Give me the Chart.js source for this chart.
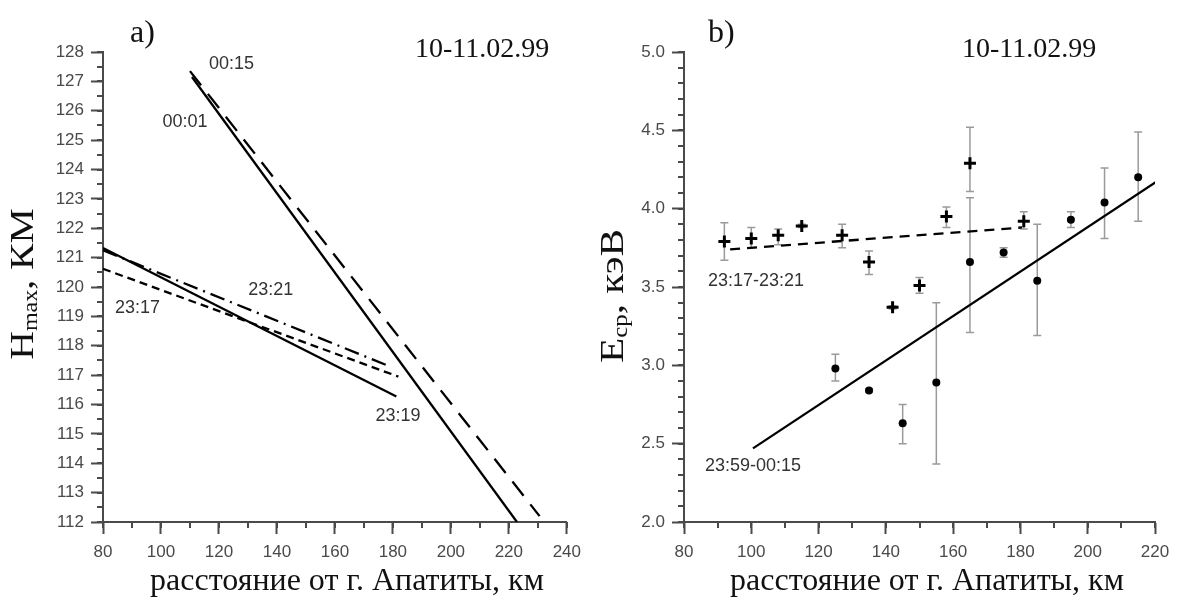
<!DOCTYPE html>
<html>
<head>
<meta charset="utf-8">
<script src="https://cdn.jsdelivr.net/npm/chart.js@4.4.1/dist/chart.umd.min.js"></script>
<style>
html,body{margin:0;padding:0;background:#fff;}
#wrap{position:relative;width:1178px;height:601px;overflow:hidden;}
#cA{position:absolute;left:0;top:0;}
#cB{position:absolute;left:589px;top:0;}
</style>
</head>
<body>
<div id="wrap">
<canvas id="cA" width="589" height="601"></canvas>
<canvas id="cB" width="589" height="601"></canvas>
</div>
<script>
// ---------- Panel a) : Hmax vs distance (regression lines) ----------
const a_xTicks = [80, 100, 120, 140, 160, 180, 200, 220, 240];
const a_yTicks = [112, 113, 114, 115, 116, 117, 118, 119, 120, 121, 122, 123, 124, 125, 126, 127, 128];

const line0015_x = [110, 230.6];
const line0015_y = [127.35, 112.2];
const line0001_x = [110.7, 222.8];
const line0001_y = [127.15, 112.0];
const line2319_x = [80, 181.2];
const line2319_y = [121.33, 116.27];
const line2317_x = [80, 181.9];
const line2317_y = [120.62, 116.95];
const line2321_x = [80, 178.8];
const line2321_y = [121.25, 117.3];

const a_labelText = ['00:15', '00:01', '23:21', '23:17', '23:19'];
const a_labelX = [124.3, 108.3, 137.9, 91.9, 181.8];
const a_labelY = [127.6, 125.6, 119.9, 119.3, 115.6];

// ---------- Panel b) : mean energy vs distance ----------
const b_xTicks = [80, 100, 120, 140, 160, 180, 200, 220];
const b_yTicks = [2.0, 2.5, 3.0, 3.5, 4.0, 4.5, 5.0];

// 23:17-23:21 (crosses)
const crossX  = [92, 100, 108, 115, 127, 135, 142, 150, 158, 165, 181];
const crossY  = [3.79, 3.81, 3.83, 3.89, 3.83, 3.66, 3.37, 3.51, 3.95, 4.29, 3.92];
const crossLo = [3.67, 3.75, 3.77, 3.88, 3.75, 3.58, 3.36, 3.46, 3.88, 4.11, 3.87];
const crossHi = [3.91, 3.88, 3.87, 3.90, 3.90, 3.73, 3.38, 3.56, 4.01, 4.52, 3.98];

// 23:59-00:15 (dots)
const dotX  = [125, 135, 145, 155, 165, 175, 185, 195, 205, 215];
const dotY  = [2.98, 2.84, 2.63, 2.89, 3.66, 3.72, 3.54, 3.93, 4.04, 4.20];
const dotLo = [2.90, 2.83, 2.50, 2.37, 3.21, 3.69, 3.19, 3.88, 3.81, 3.92];
const dotHi = [3.07, 2.85, 2.75, 3.40, 4.07, 3.75, 3.90, 3.98, 4.26, 4.49];

const fitCross_x = [93.7, 180.5];
const fitCross_y = [3.74, 3.88];
const fitDot_x = [100.5, 220.3];
const fitDot_y = [2.47, 4.17];

const b_labelText = ['23:17-23:21', '23:59-00:15'];
const b_labelX = [101.4, 100.5];
const b_labelY = [3.54, 2.36];

// ---------- helpers ----------
const pts = (xs, ys) => xs.map((x, i) => ({x: x, y: ys[i]}));
const SANS = "'Liberation Sans', Arial, sans-serif";
const SERIF = "'Liberation Serif', 'Times New Roman', serif";
const AXC = '#4a4a4a';

function makeScale(min, max, ticks, isY, fmt, size) {
  return {
    type: 'linear', min: min, max: max,
    afterBuildTicks: s => { s.ticks = ticks.map(v => ({value: v})); },
    afterFit: s => { if (isY) s.width = size; else s.height = size; },
    border: {display: true, color: AXC, width: 2},
    grid: {display: true, drawOnChartArea: false, drawTicks: true, tickLength: 12, tickColor: AXC, tickWidth: 2},
    ticks: {
      color: '#4a4a4a', font: {family: SANS, size: 17}, padding: isY ? 7 : 8,
      callback: v => fmt(v)
    }
  };
}

const minorTicks = {
  id: 'minorTicks',
  afterDraw(chart, args, opts) {
    const ctx = chart.ctx, ca = chart.chartArea;
    ctx.save();
    ctx.strokeStyle = AXC; ctx.lineWidth = 2;
    const xs = chart.scales.x, ys = chart.scales.y;
    for (let v = xs.min; v <= xs.max + 1e-9; v += opts.xStep) {
      const p = Math.round(xs.getPixelForValue(v));
      ctx.beginPath(); ctx.moveTo(p, ca.bottom); ctx.lineTo(p, ca.bottom + 6); ctx.stroke();
    }
    for (let v = ys.min; v <= ys.max + 1e-9; v += opts.yStep) {
      const p = Math.round(ys.getPixelForValue(v));
      ctx.beginPath(); ctx.moveTo(ca.left, p); ctx.lineTo(ca.left - 6, p); ctx.stroke();
    }
    ctx.restore();
  }
};

const errorBars = {
  id: 'errorBars',
  beforeDatasetsDraw(chart) {
    const ctx = chart.ctx, xs = chart.scales.x, ys = chart.scales.y;
    ctx.save();
    ctx.strokeStyle = '#9a9a9a'; ctx.lineWidth = 1.5;
    chart.data.datasets.forEach(ds => {
      if (!ds.errLo) return;
      ds.data.forEach((d, i) => {
        const px = xs.getPixelForValue(d.x);
        const p1 = ys.getPixelForValue(ds.errLo[i]);
        const p2 = ys.getPixelForValue(ds.errHi[i]);
        ctx.beginPath();
        ctx.moveTo(px, p1); ctx.lineTo(px, p2);
        ctx.moveTo(px - 4, p1); ctx.lineTo(px + 4, p1);
        ctx.moveTo(px - 4, p2); ctx.lineTo(px + 4, p2);
        ctx.stroke();
      });
    });
    ctx.restore();
  }
};

const textLayer = {
  id: 'textLayer',
  afterDraw(chart, args, o) {
    const ctx = chart.ctx, xs = chart.scales.x, ys = chart.scales.y;
    ctx.save();
    ctx.fillStyle = '#111';
    ctx.textBaseline = 'alphabetic';
    ctx.textAlign = 'left';
    ctx.font = '32px ' + SERIF;
    ctx.fillText(o.letter, o.letterX, 42);
    ctx.font = '28px ' + SERIF;
    ctx.fillText(o.date, o.dateX, 57);
    ctx.font = '32px ' + SERIF;
    ctx.textAlign = 'center';
    ctx.fillText(o.xTitle, o.xTitleX, 590);
    // y title (rotated, with subscript)
    ctx.translate(o.yTitleX, o.yTitleY);
    ctx.rotate(-Math.PI / 2);
    ctx.scale(o.yStretch, 1);
    ctx.textAlign = 'left';
    const big = '33px ' + SERIF, small = '20px ' + SERIF;
    ctx.font = big; const w1 = ctx.measureText(o.yMain).width;
    ctx.font = small; const w2 = ctx.measureText(o.ySub).width;
    ctx.font = big; const w3 = ctx.measureText(o.yRest).width;
    let x0 = -(w1 + w2 + w3) / 2;
    ctx.font = big; ctx.fillText(o.yMain, x0, 0); x0 += w1;
    ctx.font = small; ctx.fillText(o.ySub, x0, 4); x0 += w2;
    ctx.font = big; ctx.fillText(o.yRest, x0, 0);
    ctx.setTransform(1, 0, 0, 1, 0, 0);
    // annotation labels in data coordinates
    ctx.font = '18px ' + SANS;
    ctx.fillStyle = '#333';
    ctx.textAlign = 'center'; ctx.textBaseline = 'middle';
    o.labels.text.forEach((t, i) => {
      ctx.fillText(t, xs.getPixelForValue(o.labels.x[i]), ys.getPixelForValue(o.labels.y[i]));
    });
    ctx.restore();
  }
};

const lineDs = (xs, ys, dash) => ({
  type: 'line', data: pts(xs, ys), borderColor: '#000', borderWidth: 2.3,
  borderDash: dash, pointRadius: 0, fill: false, tension: 0
});

const commonOpts = {
  responsive: false, animation: false, devicePixelRatio: 1,
  plugins: {legend: {display: false}, tooltip: {enabled: false}}
};

// ---------- Chart a ----------
new Chart(document.getElementById('cA'), {
  type: 'scatter',
  data: {
    datasets: [
      lineDs(line0015_x, line0015_y, [18, 11]),
      lineDs(line0001_x, line0001_y, []),
      lineDs(line2319_x, line2319_y, []),
      lineDs(line2317_x, line2317_y, [8, 5]),
      lineDs(line2321_x, line2321_y, [15, 6, 2, 6])
    ]
  },
  options: Object.assign({}, commonOpts, {
    layout: {padding: {left: 0, right: 16, top: 52, bottom: 0}},
    scales: {
      x: makeScale(80, 240, a_xTicks, false, v => String(v), 79),
      y: makeScale(112, 128, a_yTicks, true, v => String(v), 103)
    },
    plugins: Object.assign({}, commonOpts.plugins, {
      minorTicks: {xStep: 10, yStep: 0.5},
      textLayer: {
        letter: 'a)', letterX: 130, date: '10-11.02.99', dateX: 415,
        xTitle: 'расстояние от г. Апатиты, км', xTitleX: 347,
        yMain: 'H', ySub: 'max', yRest: ', КМ', yTitleX: 33, yTitleY: 284, yStretch: 1.2,
        labels: {text: a_labelText, x: a_labelX, y: a_labelY}
      }
    })
  }),
  plugins: [minorTicks, textLayer]
});

// ---------- Chart b ----------
new Chart(document.getElementById('cB'), {
  type: 'scatter',
  data: {
    datasets: [
      lineDs(fitCross_x, fitCross_y, [10, 7]),
      lineDs(fitDot_x, fitDot_y, []),
      {data: pts(crossX, crossY), errLo: crossLo, errHi: crossHi, pointStyle: 'cross',
       pointRadius: 6, borderColor: '#000', borderWidth: 3, backgroundColor: '#000'},
      {data: pts(dotX, dotY), errLo: dotLo, errHi: dotHi, pointStyle: 'circle',
       pointRadius: 4, borderColor: '#000', borderWidth: 0, backgroundColor: '#000'}
    ]
  },
  options: Object.assign({}, commonOpts, {
    layout: {padding: {left: 0, right: 23, top: 52, bottom: 0}},
    scales: {
      x: makeScale(80, 220, b_xTicks, false, v => String(v), 79),
      y: makeScale(2.0, 5.0, b_yTicks, true, v => Number(v).toFixed(1), 95)
    },
    plugins: Object.assign({}, commonOpts.plugins, {
      minorTicks: {xStep: 10, yStep: 0.1},
      textLayer: {
        letter: 'b)', letterX: 119, date: '10-11.02.99', dateX: 373,
        xTitle: 'расстояние от г. Апатиты, км', xTitleX: 338,
        yMain: 'E', ySub: 'ср', yRest: ', кэВ', yTitleX: 34, yTitleY: 296, yStretch: 1.25,
        labels: {text: b_labelText, x: b_labelX, y: b_labelY}
      }
    })
  }),
  plugins: [minorTicks, errorBars, textLayer]
});
</script>
</body>
</html>
